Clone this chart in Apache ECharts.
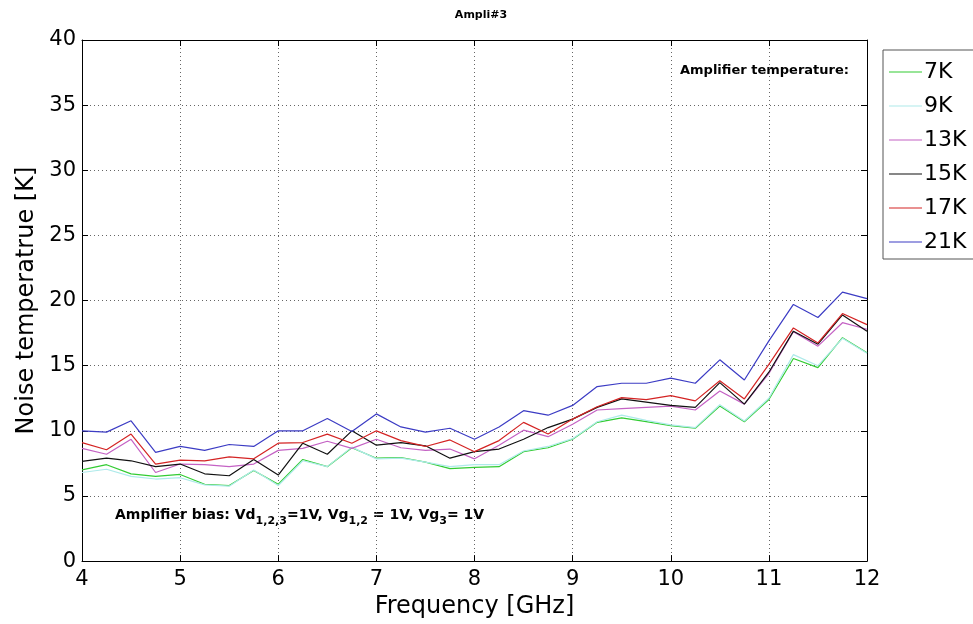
<!DOCTYPE html>
<html>
<head>
<meta charset="utf-8">
<title>Ampli#3</title>
<script src="https://cdn.jsdelivr.net/npm/echarts@6/dist/echarts.min.js"></script>
<style>
  html, body { margin: 0; padding: 0; background: #fff; }
  #chart { width: 973px; height: 624px; }
</style>
</head>
<body>
<div id="chart"></div>
<script>
// Frequency points (GHz)
const freq = [4, 4.25, 4.5, 4.75, 5, 5.25, 5.5, 5.75, 6, 6.25, 6.5, 6.75, 7, 7.25, 7.5, 7.75,
  8, 8.25, 8.5, 8.75, 9, 9.25, 9.5, 9.75, 10, 10.25, 10.5, 10.75, 11, 11.25, 11.5, 11.75, 12];

// Noise temperature [K] per amplifier physical temperature
const t7K  = [7.0, 7.4, 6.7, 6.5, 6.65, 5.9, 5.8, 6.95, 5.9, 7.8, 7.25, 8.7, 7.9, 7.95, 7.6, 7.1,
  7.2, 7.25, 8.4, 8.7, 9.35, 10.65, 11.0, 10.7, 10.4, 10.2, 11.9, 10.7, 12.4, 15.55, 14.85, 17.15, 16.0];
const t9K  = [6.8, 7.05, 6.5, 6.3, 6.4, 5.85, 5.75, 7.0, 5.8, 7.7, 7.25, 8.75, 7.85, 7.9, 7.6, 7.25,
  7.4, 7.4, 8.45, 8.8, 9.4, 10.7, 11.2, 10.8, 10.45, 10.25, 12.0, 10.75, 12.5, 15.85, 15.0, 17.1, 15.95];
const t13K = [8.65, 8.2, 9.35, 6.8, 7.45, 7.4, 7.25, 7.45, 8.5, 8.65, 9.2, 8.65, 9.35, 8.7, 8.5, 8.6,
  7.85, 8.9, 10.05, 9.55, 10.5, 11.6, 11.7, 11.8, 11.9, 11.6, 13.05, 12.05, 14.4, 17.6, 16.5, 18.3, 17.8];
const t15K = [7.65, 7.9, 7.7, 7.25, 7.45, 6.7, 6.55, 7.8, 6.6, 9.05, 8.2, 10.0, 8.9, 9.1, 8.85, 7.9,
  8.4, 8.6, 9.35, 10.25, 10.9, 11.8, 12.45, 12.2, 11.95, 11.8, 13.7, 12.05, 14.5, 17.65, 16.65, 18.9, 17.65];
const t17K = [9.1, 8.55, 9.75, 7.45, 7.75, 7.7, 8.0, 7.85, 9.05, 9.1, 9.75, 9.05, 10.0, 9.25, 8.8, 9.3,
  8.4, 9.25, 10.65, 9.75, 10.9, 11.85, 12.55, 12.4, 12.7, 12.3, 13.85, 12.45, 15.1, 17.9, 16.75, 19.0, 18.15];
const t21K = [10.0, 9.9, 10.77, 8.35, 8.8, 8.5, 8.95, 8.8, 10.0, 10.0, 10.95, 9.95, 11.3, 10.3, 9.9, 10.2,
  9.35, 10.3, 11.55, 11.2, 11.95, 13.4, 13.65, 13.65, 14.05, 13.65, 15.45, 13.9, 16.9, 19.7, 18.7, 20.65, 20.15];

const seriesNames = ['7K', '9K', '13K', '15K', '17K', '21K'];
const seriesData = [t7K, t9K, t13K, t15K, t17K, t21K];
const seriesColors = ['#33cc33', '#aeeaea', '#c462c4', '#111111', '#d42424', '#3c3cc4'];

const FONT = '"DejaVu Sans", Verdana, sans-serif';

const chart = echarts.init(document.getElementById('chart'), null, { renderer: 'canvas' });

const gridLine = { show: true, lineStyle: { color: '#666', type: [1, 3], width: 1 } };

const option = {
  animation: false,
  backgroundColor: '#fff',
  title: {
    text: 'Ampli#3',
    left: 476, top: 5, textAlign: 'center',
    textStyle: { fontFamily: FONT, fontSize: 11, fontWeight: 'bold', color: '#000' }
  },
  grid: { left: 82, right: 106, top: 40, bottom: 62, containLabel: false },
  legend: {
    orient: 'vertical',
    left: 883, top: 50,
    data: seriesNames,
    icon: 'rect',
    itemWidth: 33, itemHeight: 1,
    itemGap: 8,
    padding: [9, 40, 4, 6],
    borderColor: '#555', borderWidth: 1,
    backgroundColor: '#fff',
    textStyle: { fontFamily: FONT, fontSize: 22, color: '#000', lineHeight: 26, padding: [0, 0, 0, -3] }
  },
  xAxis: [{
    type: 'value', min: 4, max: 12, interval: 1,
    name: 'Frequency [GHz]', nameLocation: 'middle', nameGap: 29,
    nameTextStyle: { fontFamily: FONT, fontSize: 24, color: '#000' },
    axisLine: { show: true, onZero: false, lineStyle: { color: '#000', width: 1 } },
    axisTick: { show: true, inside: true, length: 6, lineStyle: { color: '#000' } },
    axisLabel: { fontFamily: FONT, fontSize: 21, color: '#000', margin: 8 },
    splitLine: gridLine
  }, {
    type: 'value', min: 4, max: 12, interval: 1, position: 'top',
    axisLine: { show: true, onZero: false, lineStyle: { color: '#000', width: 1 } },
    axisTick: { show: true, inside: true, length: 6, lineStyle: { color: '#000' } },
    axisLabel: { show: false }, splitLine: { show: false }
  }],
  yAxis: [{
    type: 'value', min: 0, max: 40, interval: 5,
    name: 'Noise temperatrue [K]', nameLocation: 'middle', nameGap: 38,
    nameTextStyle: { fontFamily: FONT, fontSize: 24, color: '#000' },
    axisLine: { show: true, onZero: false, lineStyle: { color: '#000', width: 1 } },
    axisTick: { show: true, inside: true, length: 6, lineStyle: { color: '#000' } },
    axisLabel: { fontFamily: FONT, fontSize: 21, color: '#000', margin: 6 },
    splitLine: gridLine
  }, {
    type: 'value', min: 0, max: 40, interval: 5, position: 'right',
    axisLine: { show: true, onZero: false, lineStyle: { color: '#000', width: 1 } },
    axisTick: { show: true, inside: true, length: 6, lineStyle: { color: '#000' } },
    axisLabel: { show: false }, splitLine: { show: false }
  }],
  series: seriesNames.map((name, i) => ({
    name: name,
    type: 'line',
    xAxisIndex: 0, yAxisIndex: 0,
    data: freq.map((f, j) => [f, seriesData[i][j]]),
    showSymbol: false,
    symbol: 'none',
    color: seriesColors[i],
    lineStyle: { width: 1.2, color: seriesColors[i] }
  })),
  graphic: [{
    type: 'text', left: 680, top: 64,
    style: { text: 'Amplifier temperature:', font: 'bold 13px ' + FONT, fill: '#000' }
  }, {
    type: 'text', left: 115, top: 508,
    style: {
      text: 'Amplifier bias: Vd{s|1,2,3}=1V, Vg{s|1,2} = 1V, Vg{s|3}= 1V',
      fill: '#000',
      rich: {
        s: { font: 'bold 11px ' + FONT, fill: '#000', padding: [12, 0, 0, 0], verticalAlign: 'top' }
      },
      font: 'bold 14px ' + FONT,
      verticalAlign: 'top'
    }
  }]
};

chart.setOption(option);
</script>
</body>
</html>
